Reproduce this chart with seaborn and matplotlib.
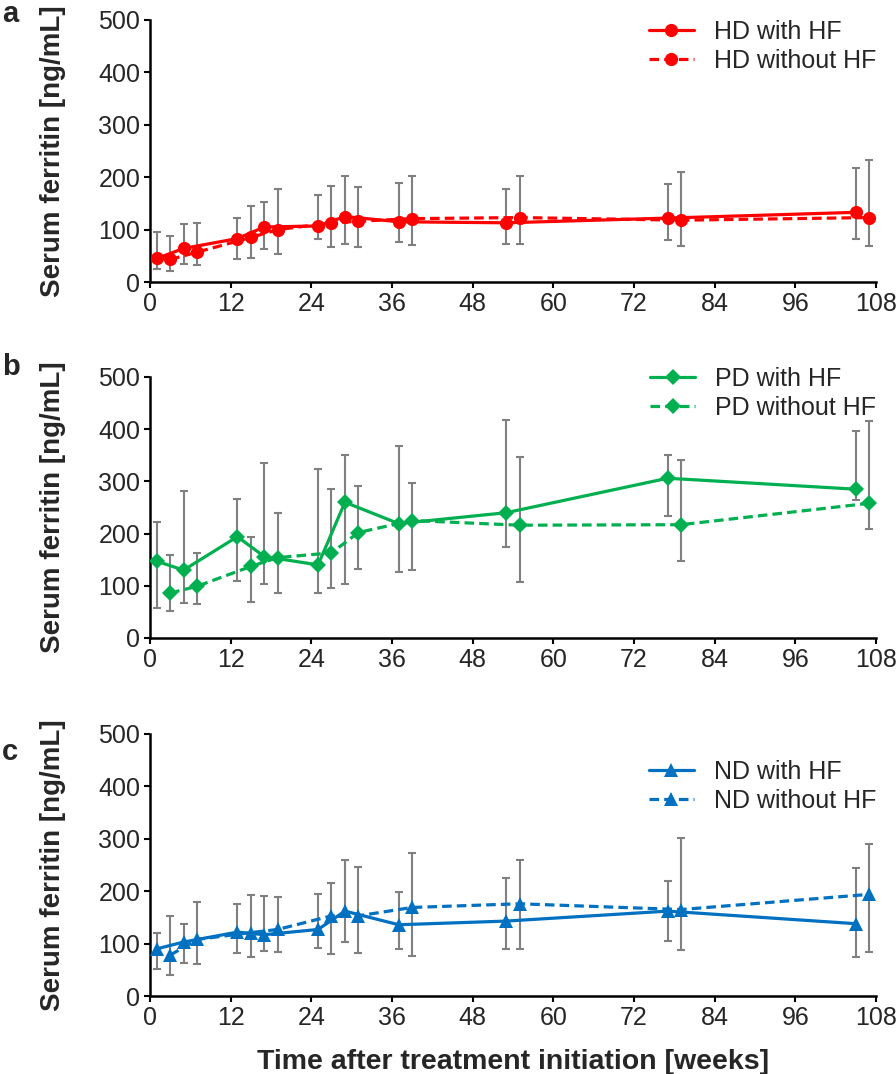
import matplotlib
matplotlib.use('Agg')
import matplotlib.pyplot as plt
import seaborn as sns

sns.set_style('ticks')
plt.rcParams['font.family'] = ['Liberation Sans', 'DejaVu Sans']

# weeks of the two groups (offset so the points do not overlap)
weeks_with = [1, 5, 13, 17, 25, 29, 37, 53, 77, 105]
weeks_without = [3, 7, 15, 19, 27, 31, 39, 55, 79, 107]

# HD
hd_with = [45, 64, 83, 105, 107, 125, 115, 113, 122, 133]
hd_with_lo = [24, 35, 44, 63, 82, 73, 76, 72, 81, 82]
hd_with_hi = [95, 110, 123, 153, 167, 202, 188, 178, 187, 217]
hd_without = [43, 57, 85, 100, 113, 116, 121, 123, 118, 123]
hd_without_lo = [21, 33, 46, 54, 66, 67, 71, 73, 68, 69]
hd_without_hi = [88, 112, 146, 178, 184, 182, 203, 203, 210, 232]

# PD
pd_with = [147, 130, 194, 156, 140, 260, 219, 240, 306, 285]
pd_with_lo = [57, 67, 109, 103, 87, 103, 126, 174, 234, 265]
pd_with_hi = [223, 281, 267, 336, 324, 350, 367, 417, 351, 396]
pd_without = [86, 99, 137, 154, 163, 202, 225, 216, 217, 258]
pd_without_lo = [51, 65, 68, 87, 96, 133, 131, 108, 147, 209]
pd_without_hi = [158, 163, 193, 239, 285, 292, 297, 346, 341, 416]

# ND
nd_with = [90, 103, 122, 117, 127, 162, 136, 143, 162, 138]
nd_with_lo = [52, 63, 82, 86, 91, 104, 89, 90, 105, 75]
nd_with_hi = [121, 137, 176, 191, 195, 259, 199, 226, 219, 245]
nd_without = [78, 108, 121, 127, 153, 153, 169, 176, 165, 194]
nd_without_lo = [40, 61, 75, 84, 80, 83, 77, 90, 87, 84]
nd_without_hi = [153, 180, 193, 189, 216, 246, 272, 260, 302, 291]

x_ticks = list(range(0, 109, 12))
y_ticks = [0, 100, 200, 300, 400, 500]

panels = [
    ('a', 'HD', '#FF0000', 'o', 9.5,
     (hd_with, hd_with_lo, hd_with_hi), (hd_without, hd_without_lo, hd_without_hi),
     [0.1674, 0.7374, 0.8103, 0.2440], (1.0, 1.0)),
    ('b', 'PD', '#00B050', 'D', 8.5,
     (pd_with, pd_with_lo, pd_with_hi), (pd_without, pd_without_lo, pd_without_hi),
     [0.1674, 0.4060, 0.8103, 0.2430], (1.0, 1.04)),
    ('c', 'ND', '#0070C0', '^', 10,
     (nd_with, nd_with_lo, nd_with_hi), (nd_without, nd_without_lo, nd_without_hi),
     [0.1674, 0.0726, 0.8103, 0.2440], (1.0, 0.9)),
]
letter_y = {'a': 1 - 22 / 1074, 'b': 1 - 375 / 1074, 'c': 1 - 760 / 1074}

fig = plt.figure(figsize=(8.96, 10.74), dpi=100)

for letter, name, color, marker, ms, s_with, s_without, rect, leg_pos in panels:
    ax = fig.add_axes(rect)
    for weeks, (vals, lo, hi), ls, lab in [
        (weeks_with, s_with, '-', name + ' with HF'),
        (weeks_without, s_without, (0, (3, 1.6)), name + ' without HF'),
    ]:
        err = [[v - l for v, l in zip(vals, lo)], [h - v for v, h in zip(vals, hi)]]
        ax.errorbar(weeks, vals, yerr=err, fmt='none', ecolor='#808080',
                    elinewidth=1.5, capsize=3, capthick=1.5, zorder=1)
        sns.lineplot(x=weeks, y=vals, ax=ax, color=color, marker=marker,
                     markersize=ms, markeredgecolor=color, markeredgewidth=0,
                     linewidth=2.3, linestyle=ls, label=lab, errorbar=None,
                     zorder=3)

    ax.set_xlim(0, 108)
    ax.set_ylim(0, 500)
    ax.set_xticks(x_ticks)
    ax.set_yticks(y_ticks)
    ax.tick_params(labelsize=18, length=4, width=1.5, color='black', pad=3)
    for side in ['top', 'right']:
        ax.spines[side].set_visible(False)
    for side in ['left', 'bottom']:
        ax.spines[side].set_linewidth(1.8)
        ax.spines[side].set_color('black')
    ax.set_xlabel('')
    ax.set_ylabel('Serum ferritin [ng/mL]', fontsize=20, fontweight='bold')
    ax.yaxis.set_label_coords(-0.115, 0.5)
    ax.legend(loc='upper right', bbox_to_anchor=leg_pos, frameon=False,
              fontsize=18, handlelength=1.8, handletextpad=0.8,
              labelspacing=0.2, borderpad=0, borderaxespad=0)
    fig.text(0.002, letter_y[letter], letter, fontsize=21, fontweight='bold',
             va='baseline', ha='left')

ax.set_xlabel('Time after treatment initiation [weeks]', fontsize=20.5,
              fontweight='bold', labelpad=14)

fig.savefig('out.png', dpi=100)
